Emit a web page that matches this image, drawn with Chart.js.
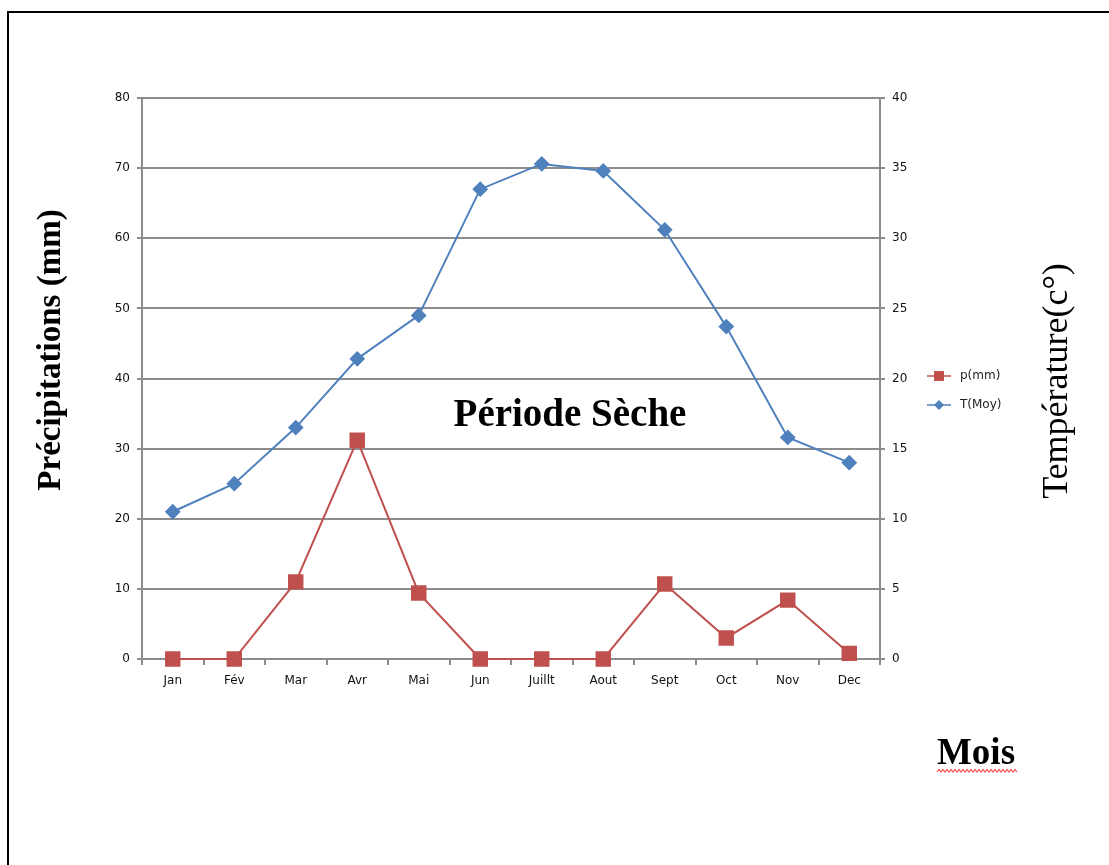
<!DOCTYPE html>
<html>
<head>
<meta charset="utf-8">
<script src="https://cdn.jsdelivr.net/npm/chart.js@4"></script>
<style>
    html, body { margin: 0; padding: 0; background: #fff; }
    #wrap { position: relative; width: 1109px; height: 865px; }
</style>
</head>
<body>
<div id="wrap"><canvas id="climateChart" width="1109" height="865"></canvas></div>
<script>
// Monthly data
const months = ['Jan', 'Fév', 'Mar', 'Avr', 'Mai', 'Jun', 'Juillt', 'Aout', 'Sept', 'Oct', 'Nov', 'Dec'];
const precipMm = [0, 0, 11, 31.2, 9.4, 0, 0, 0, 10.7, 3, 8.4, 0.8];
const tempMoy = [10.5, 12.5, 16.5, 21.4, 24.5, 33.5, 35.3, 34.8, 30.6, 23.7, 15.8, 14];

// Axis ranges
const precipMax = 80;
const precipStep = 10;
const tempMax = 40;
const tempStep = 5;

const RED = '#C0504D';
const BLUE = '#4F81BD';
const GRID = '#8c8c8c';
const TICK_FONT = { family: 'DejaVu Sans', size: 12 };

// Frame, titles, annotation and legend drawn on top of the chart
const decorations = {
    id: 'decorations',
    afterDraw(chart) {
        const ctx = chart.ctx;
        ctx.save();

        // outer frame (left and top edges)
        ctx.strokeStyle = '#000';
        ctx.lineWidth = 2;
        ctx.beginPath();
        ctx.moveTo(8, 865);
        ctx.lineTo(8, 12);
        ctx.lineTo(1109, 12);
        ctx.stroke();

        ctx.fillStyle = '#000';
        ctx.textAlign = 'center';
        ctx.textBaseline = 'middle';

        // left axis title
        ctx.save();
        ctx.translate(51, 350);
        ctx.rotate(-Math.PI / 2);
        ctx.font = 'bold 33px "Liberation Serif"';
        ctx.fillText('Précipitations (mm)', 0, 0);
        ctx.restore();

        // right axis title
        ctx.save();
        ctx.translate(1058, 381);
        ctx.rotate(-Math.PI / 2);
        ctx.font = '36px "Liberation Serif"';
        ctx.fillText('Température(c°)', 0, 0);
        ctx.restore();

        // dry season label
        ctx.font = 'bold 39px "Liberation Serif"';
        ctx.fillText('Période Sèche', 570, 416);

        // x axis title with squiggle underline
        ctx.font = 'bold 37px "Liberation Serif"';
        ctx.fillText('Mois', 976, 754);
        const w = ctx.measureText('Mois').width;
        ctx.strokeStyle = '#ff5050';
        ctx.lineWidth = 1.2;
        ctx.beginPath();
        const x0 = 976 - w / 2;
        ctx.moveTo(x0, 772);
        for (let x = x0, k = 0; x < x0 + w; x += 2, k++) {
            ctx.lineTo(x + 2, k % 2 ? 772 : 769.5);
        }
        ctx.stroke();

        // legend
        ctx.font = '12px "DejaVu Sans"';
        ctx.textAlign = 'left';
        chart.data.datasets.forEach((ds, i) => {
            const y = 376 + i * 29;
            ctx.strokeStyle = ds.borderColor;
            ctx.lineWidth = 1.5;
            ctx.beginPath();
            ctx.moveTo(927, y);
            ctx.lineTo(951, y);
            ctx.stroke();
            ctx.fillStyle = ds.backgroundColor;
            if (ds.pointStyle === 'rect') {
                ctx.fillRect(934, y - 5, 10, 10);
            } else {
                ctx.beginPath();
                ctx.moveTo(939, y - 5);
                ctx.lineTo(944, y);
                ctx.lineTo(939, y + 5);
                ctx.lineTo(934, y);
                ctx.closePath();
                ctx.fill();
            }
            ctx.fillStyle = '#222';
            ctx.fillText(ds.label, 960, y);
        });

        ctx.restore();
    }
};

const ctx = document.getElementById('climateChart').getContext('2d');
new Chart(ctx, {
    type: 'line',
    data: {
        labels: months,
        datasets: [
            {
                label: 'p(mm)',
                data: precipMm,
                yAxisID: 'y',
                borderColor: RED,
                backgroundColor: RED,
                borderWidth: 2,
                pointStyle: 'rect',
                pointRadius: 9.5,
                pointHoverRadius: 9.5,
                clip: false,
                tension: 0
            },
            {
                label: 'T(Moy)',
                data: tempMoy,
                yAxisID: 'y1',
                borderColor: BLUE,
                backgroundColor: BLUE,
                borderWidth: 2,
                pointStyle: 'rectRot',
                pointRadius: 6.5,
                pointHoverRadius: 6.5,
                clip: false,
                tension: 0
            }
        ]
    },
    options: {
        responsive: false,
        animation: false,
        layout: { padding: { left: 0, right: 0, top: 98, bottom: 0 } },
        plugins: {
            legend: { display: false },
            tooltip: { enabled: false }
        },
        scales: {
            x: {
                offset: true,
                grid: { offset: true, drawOnChartArea: false, tickLength: 6, color: GRID, lineWidth: 2 },
                border: { color: GRID, width: 2 },
                ticks: { color: '#111', font: TICK_FONT, padding: 9, maxRotation: 0 },
                afterFit: (scale) => { scale.height = 865 - 659; }
            },
            y: {
                position: 'left',
                min: 0,
                max: precipMax,
                ticks: { stepSize: precipStep, color: '#111', font: TICK_FONT, padding: 7 },
                grid: { color: GRID, lineWidth: 2, tickLength: 5 },
                border: { color: GRID, width: 2 },
                afterFit: (scale) => { scale.width = 142; }
            },
            y1: {
                position: 'right',
                min: 0,
                max: tempMax,
                ticks: { stepSize: tempStep, color: '#111', font: TICK_FONT, padding: 7 },
                grid: { drawOnChartArea: false, color: GRID, lineWidth: 2, tickLength: 5 },
                border: { color: GRID, width: 2 },
                afterFit: (scale) => { scale.width = 1109 - 880; }
            }
        }
    },
    plugins: [decorations]
});
</script>
</body>
</html>
